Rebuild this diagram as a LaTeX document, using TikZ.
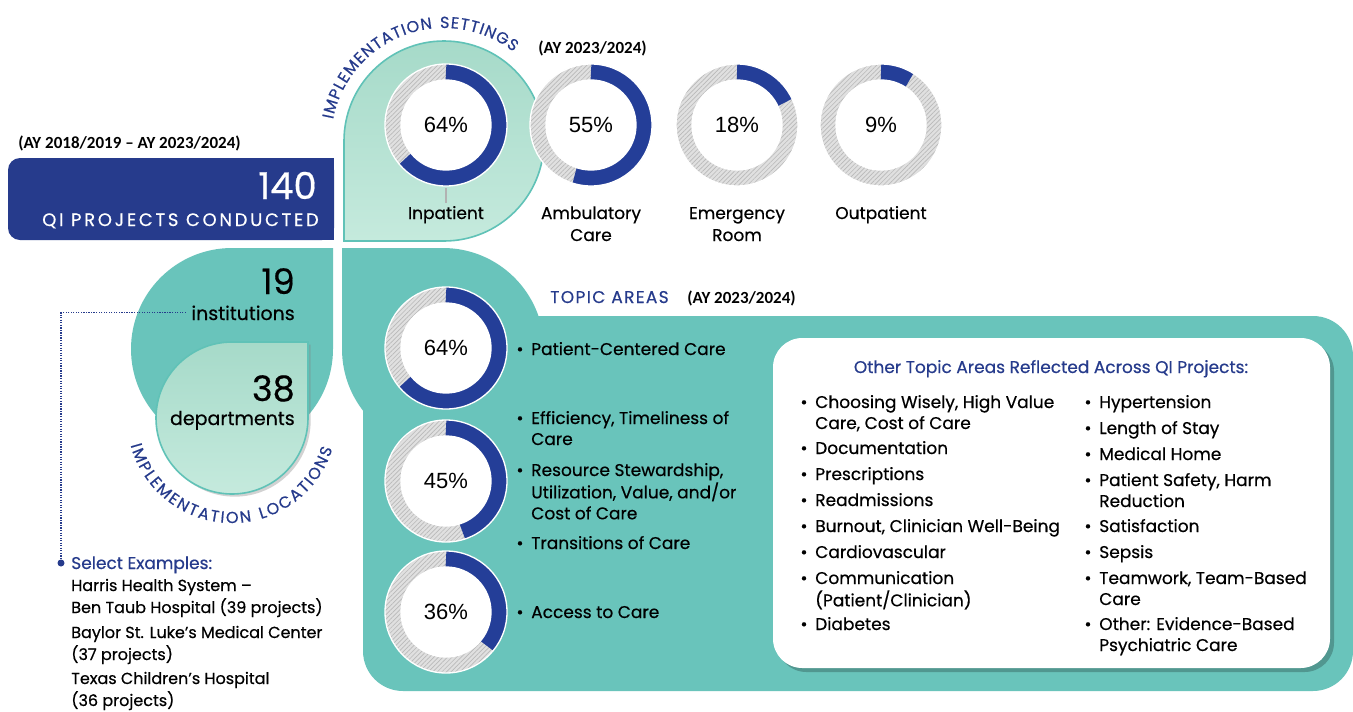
\documentclass[tikz,border=0pt]{standalone}
\usepackage{fontspec}
\setmainfont{Poppins}[FakeBold=0.5]
\newfontfamily\pctfont{Liberation Sans}
\newfontfamily\ayfont{Carlito}
\newfontfamily\spaced{Poppins}[LetterSpace=8,FakeBold=0.5]
\newfontfamily\widespaced{Poppins}[LetterSpace=15,FakeBold=0.5]
\usetikzlibrary{patterns.meta,shadows,decorations.text}

\definecolor{navy}{RGB}{38,59,140}
\definecolor{ringblue}{RGB}{36,62,152}
\definecolor{tealbg}{RGB}{105,196,187}
\definecolor{mintdark}{RGB}{166,218,201}
\definecolor{mintlight}{RGB}{197,234,221}
\definecolor{tealline}{RGB}{96,194,183}
\definecolor{hatchgray}{RGB}{224,224,224}

% font size given in pixels of the target
\newcommand{\pxs}[2]{\fontsize{\fpeval{0.75*#1}pt}{\fpeval{0.75*#2}pt}\selectfont}
% lines whose baseline is the first one
\newcommand{\lft}[1]{\begin{tabular}[t]{@{}l@{}}#1\end{tabular}}
\newcommand{\ctr}[1]{\begin{tabular}[t]{@{}c@{}}#1\end{tabular}}

\tikzset{
  txt/.style={font=\pxs{17}{21}, inner sep=0pt, anchor=base west},
  ctxt/.style={font=\pxs{17}{22}, inner sep=0pt, anchor=base},
  bul/.style={font=\pxs{17}{21}, inner sep=0pt, anchor=base},
  pct/.style={font=\pctfont\pxs{22}{22}, inner sep=0pt},
  aytxt/.style={font=\ayfont\bfseries\pxs{17}{17}, inner sep=0pt, anchor=base west},
  bignum/.style={font=\pxs{35}{35}, inner sep=0pt, anchor=base east},
  arcword/.style={decorate, decoration={text along path, text align=fit to path,
      text={|\color{navy}\spaced\pxs{16}{16}|#1}}},
  mint/.style={top color=mintdark, bottom color=mintlight, draw=tealline, line width=1.2pt},
}

% donut: name, x, y, percent
\newcommand{\ring}[4]{%
  \coordinate (#1) at (#2,#3);
  \fill[hatchgray, even odd rule] (#1) circle (61) (#1) circle (45);
  \fill[pattern={Lines[angle=45,distance=2.4pt,line width=.5pt]}, pattern color=gray!55,
    even odd rule] (#1) circle (61) (#1) circle (45);
  \draw[ringblue, line width=12pt] (#1) ++(-90:53) arc[start angle=-90, delta angle={3.6*#4}, radius=53];
  \draw[white, line width=1pt] (#1) circle (61) (#1) circle (45);
  \fill[white] (#1) circle (45);
  \node[pct] (#1-pct) at (#1) {#4\%};
}
% bulleted item: name, x, y, text
\newcommand{\tpitem}[4]{%
  \node[bul] (#1-b) at ({#2-11},#3) {\textbullet};
  \node[txt] (#1) at (#2,#3) {\lft{#4}};
}

\begin{document}
\begin{tikzpicture}[x=0.75pt, y=-0.75pt]
  \useasboundingbox (0,0) rectangle (1353,711);
  \fill[white] (0,0) rectangle (1353,711);

  % projects box
  \fill[navy, rounded corners=9pt] (8,158) rectangle (334,240);
  \fill[navy] (300,158) rectangle (334,240);
  \node[aytxt] (span) at (18,148) {(AY 2018/2019 \textendash\ AY 2023/2024)};
  \node[bignum, text=white, font=\pxs{37}{37}] (count) at (317,199) {140};
  \node[inner sep=0pt, anchor=base east, text=white, font=\widespaced\pxs{18}{18}] (qi) at (319,226) {QI PROJECTS CONDUCTED};

  % settings teardrop
  \draw[mint] (344,241) -- (344,141) arc[start angle=180, end angle=450, radius=100] -- cycle;
  \path[arcword={IMPLEMENTATION SETTINGS}] (444,141) ++(191:113) arc[start angle=191, end angle=308, radius=113];

  % locations teardrops
  \fill[tealbg] (333,248) -- (333,349) arc[start angle=0, end angle=270, radius=101] -- cycle;
  \draw[mint, drop shadow={shadow xshift=2pt, shadow yshift=-2pt, opacity=.35}]
    (308,342) -- (308,418) arc[start angle=0, end angle=270, radius=76] -- cycle;
  \path[arcword={IMPLEMENTATION LOCATIONS}] (232,418) ++(165:105) arc[start angle=165, end angle=17, radius=105];

  % topic area
  \fill[tealbg] (342,248) -- (443,248) arc[start angle=-90, end angle=180, radius=101] -- cycle;
  \fill[tealbg, rounded corners=30pt] (363,316) rectangle (1353,691);
  \fill[white, rounded corners=22pt, drop shadow={shadow xshift=3pt, shadow yshift=-3pt, fill=tealbg!55!black, opacity=.5}]
    (773,338) rectangle (1330,668);

  % settings donuts
  \ring{inp}{446}{125}{64}
  \ring{amb}{591}{125}{55}
  \ring{er}{737}{125}{18}
  \ring{outp}{881}{125}{9}
  \node[aytxt] (setay) at (538,53) {(AY 2023/2024)};
  \node[ctxt] (inpatient) at (446,219) {\ctr{Inpatient}};
  \node[ctxt] (ambulatory) at (591,219) {\ctr{Ambulatory\\Care}};
  \node[ctxt] (emergency) at (737,219) {\ctr{Emergency\\Room}};
  \node[ctxt] (outpatient) at (881,219) {\ctr{Outpatient}};
  \draw[gray!60, line width=.8pt] (inp) ++(0,63) -- (inpatient.north);

  % locations
  \node[bignum] (ninst) at (295,294) {19};
  \node[inner sep=0pt, anchor=base east, font=\pxs{19}{19}] (institutions) at (295,320) {institutions};
  \node[bignum] (ndept) at (295,401) {38};
  \node[inner sep=0pt, anchor=base east, font=\pxs{19}{19}] (departments) at (295,425) {departments};
  \coordinate (dot) at (61,563);
  \draw[navy, densely dotted, line width=.9pt] ([xshift=-4pt]institutions.west) -| (dot);
  \fill[navy] (dot) circle (3.5);
  \node[txt, text=navy] (select) at (71,569) {Select Examples:};
  \node[txt, font=\pxs{16}{22}] (harris) at (71,591) {\lft{Harris Health System \textendash\\Ben Taub Hospital (39 projects)}};
  \node[txt, font=\pxs{16}{22}] (baylor) at (71,638) {\lft{Baylor St. Luke’s Medical Center\\(37 projects)}};
  \node[txt, font=\pxs{16}{22}] (texas) at (71,684) {\lft{Texas Children’s Hospital\\(36 projects)}};

  % topic donuts and items
  \node[inner sep=0pt, anchor=base west, text=navy, font=\spaced\pxs{17}{17}] (topics) at (550,303) {TOPIC AREAS};
  \node[aytxt] (topay) at (687,303) {(AY 2023/2024)};
  \ring{pc}{446}{348}{64}
  \ring{ef}{446}{481}{45}
  \ring{ac}{446}{612}{36}
  \tpitem{pcc}{531}{355}{Patient-Centered Care}
  \tpitem{eff}{531}{424}{Efficiency, Timeliness of\\Care}
  \tpitem{res}{531}{476}{Resource Stewardship,\\Utilization, Value, and/or\\Cost of Care}
  \tpitem{trans}{531}{549}{Transitions of Care}
  \tpitem{acc}{531}{618}{Access to Care}

  % other topic areas
  \node[ctxt, text=navy] (other-title) at (1051,373) {Other Topic Areas Reflected Across QI Projects:};
  \tpitem{cw}{815}{408}{Choosing Wisely, High Value\\Care, Cost of Care}
  \tpitem{doc}{815}{454}{Documentation}
  \tpitem{rx}{815}{480}{Prescriptions}
  \tpitem{readm}{815}{506}{Readmissions}
  \tpitem{burn}{815}{532}{Burnout, Clinician Well-Being}
  \tpitem{cardio}{815}{558}{Cardiovascular}
  \tpitem{comm}{815}{584}{Communication\\(Patient/Clinician)}
  \tpitem{diab}{815}{630}{Diabetes}
  \tpitem{htn}{1099}{408}{Hypertension}
  \tpitem{los}{1099}{434}{Length of Stay}
  \tpitem{mh}{1099}{460}{Medical Home}
  \tpitem{safe}{1099}{486}{Patient Safety, Harm\\Reduction}
  \tpitem{sat}{1099}{532}{Satisfaction}
  \tpitem{sepsis}{1099}{558}{Sepsis}
  \tpitem{team}{1099}{584}{Teamwork, Team-Based\\Care}
  \tpitem{other}{1099}{630}{Other: Evidence-Based\\Psychiatric Care}
\end{tikzpicture}
\end{document}
